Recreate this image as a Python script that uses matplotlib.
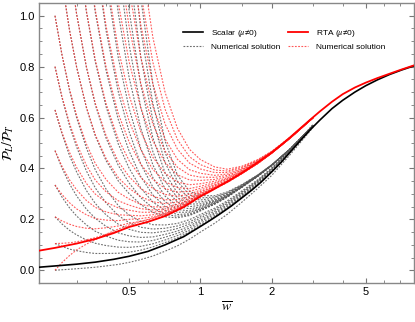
import numpy as np
import matplotlib
matplotlib.use('Agg')
import matplotlib.pyplot as plt
from matplotlib.ticker import FixedLocator, NullFormatter

plt.rcParams['font.family'] = ['Liberation Sans', 'DejaVu Sans']
plt.rcParams['mathtext.fontset'] = 'stix'

nan = np.nan

# atractores (curvas solidas)
w_atr = [0.208, 0.243, 0.3, 0.36, 0.43, 0.5, 0.6, 0.71, 0.85, 1.0, 1.1, 1.2, 1.35, 1.5, 1.65,
         1.8, 2.0, 2.2, 2.4, 2.65, 2.9, 3.2, 3.6, 4.0, 4.5, 5.0, 5.6, 6.3, 7.1, 8.0]
scalar_atr = [0.012, 0.017, 0.024, 0.032, 0.043, 0.055, 0.074, 0.10, 0.132, 0.172, 0.196, 0.219,
              0.252, 0.285, 0.315, 0.345, 0.386, 0.425, 0.465, 0.51, 0.55, 0.59, 0.635, 0.668,
              0.70, 0.725, 0.748, 0.769, 0.787, 0.803]
rta_atr = [0.077, 0.088, 0.105, 0.123, 0.146, 0.170, 0.19, 0.213, 0.248, 0.29, 0.31, 0.33,
           0.357, 0.383, 0.408, 0.432, 0.462, 0.493, 0.523, 0.558, 0.59, 0.624, 0.662, 0.692,
           0.718, 0.737, 0.755, 0.772, 0.789, 0.805]

# soluciones numericas, todas en la misma grilla de w
w_num = [0.243, 0.26, 0.28, 0.30, 0.33, 0.36, 0.40, 0.45, 0.50, 0.56, 0.63, 0.71, 0.80,
         0.90, 1.0, 1.15, 1.3, 1.5, 1.75, 2.0, 2.4, 3.0]

rta_num = [
    [0.0, 0.03, 0.058, 0.08, 0.103, 0.12, 0.142, 0.162, 0.178, 0.192, 0.205, 0.221, 0.241, 0.266, 0.293, 0.321, 0.346, 0.38, 0.42, 0.46, 0.52, 0.60],
    [0.105, 0.106, 0.108, 0.112, 0.12, 0.128, 0.141, 0.156, 0.172, 0.184, 0.197, 0.214, 0.236, 0.262, 0.29, 0.32, 0.345, 0.38, 0.42, 0.46, 0.52, 0.60],
    [0.21, 0.194, 0.181, 0.172, 0.165, 0.163, 0.167, 0.174, 0.185, 0.192, 0.203, 0.218, 0.238, 0.264, 0.291, 0.32, 0.345, 0.38, 0.42, 0.46, 0.52, 0.60],
    [0.335, 0.298, 0.265, 0.241, 0.218, 0.203, 0.197, 0.195, 0.200, 0.203, 0.210, 0.223, 0.241, 0.266, 0.293, 0.322, 0.346, 0.38, 0.42, 0.46, 0.52, 0.60],
    [0.47, 0.409, 0.355, 0.316, 0.274, 0.247, 0.229, 0.218, 0.216, 0.214, 0.218, 0.228, 0.245, 0.269, 0.294, 0.323, 0.347, 0.381, 0.42, 0.46, 0.52, 0.60],
    [0.63, 0.542, 0.463, 0.404, 0.341, 0.299, 0.267, 0.245, 0.236, 0.228, 0.228, 0.234, 0.249, 0.271, 0.296, 0.324, 0.347, 0.381, 0.42, 0.46, 0.52, 0.60],
    [0.80, 0.683, 0.577, 0.497, 0.412, 0.354, 0.308, 0.273, 0.256, 0.242, 0.237, 0.241, 0.254, 0.274, 0.298, 0.325, 0.348, 0.382, 0.421, 0.46, 0.52, 0.60],
    [1.0, 0.848, 0.711, 0.608, 0.496, 0.419, 0.356, 0.306, 0.280, 0.259, 0.249, 0.249, 0.259, 0.278, 0.301, 0.326, 0.349, 0.382, 0.421, 0.46, 0.52, 0.60],
    [nan, 1.135, 0.943, 0.798, 0.641, 0.532, 0.438, 0.364, 0.322, 0.289, 0.269, 0.262, 0.268, 0.284, 0.305, 0.329, 0.350, 0.383, 0.421, 0.46, 0.52, 0.60],
    [nan, nan, 1.197, 1.006, 0.80, 0.655, 0.528, 0.427, 0.368, 0.321, 0.291, 0.277, 0.278, 0.290, 0.309, 0.331, 0.352, 0.384, 0.422, 0.46, 0.52, 0.60],
    [nan, nan, nan, 1.295, 1.019, 0.825, 0.653, 0.515, 0.431, 0.365, 0.321, 0.298, 0.291, 0.299, 0.315, 0.335, 0.354, 0.385, 0.423, 0.46, 0.52, 0.60],
    [nan, nan, nan, nan, 1.271, 1.021, 0.797, 0.615, 0.504, 0.417, 0.357, 0.321, 0.307, 0.310, 0.322, 0.339, 0.357, 0.386, 0.423, 0.461, 0.52, 0.60],
    [nan, nan, nan, nan, nan, 1.239, 0.957, 0.728, 0.586, 0.474, 0.396, 0.348, 0.325, 0.321, 0.330, 0.344, 0.360, 0.388, 0.424, 0.461, 0.52, 0.60],
    [nan, nan, nan, nan, nan, nan, 1.158, 0.868, 0.687, 0.545, 0.444, 0.381, 0.347, 0.336, 0.340, 0.350, 0.363, 0.390, 0.425, 0.462, 0.52, 0.60],
    [nan, nan, nan, nan, nan, nan, 1.418, 1.05, 0.819, 0.638, 0.508, 0.423, 0.375, 0.355, 0.353, 0.357, 0.368, 0.393, 0.426, 0.462, 0.52, 0.60],
    [nan, nan, nan, nan, nan, nan, nan, 1.24, 0.957, 0.734, 0.574, 0.468, 0.405, 0.374, 0.366, 0.365, 0.373, 0.395, 0.428, 0.463, 0.521, 0.60],
    [nan, nan, nan, nan, nan, nan, nan, nan, 1.104, 0.837, 0.644, 0.515, 0.436, 0.395, 0.381, 0.373, 0.378, 0.398, 0.429, 0.464, 0.521, 0.60],
    [nan, nan, nan, nan, nan, nan, nan, nan, 1.285, 0.965, 0.732, 0.574, 0.476, 0.421, 0.398, 0.384, 0.384, 0.402, 0.431, 0.465, 0.522, 0.60],
    [nan, nan, nan, nan, nan, nan, nan, nan, nan, 1.089, 0.817, 0.632, 0.514, 0.446, 0.415, 0.394, 0.390, 0.405, 0.433, 0.466, 0.523, 0.60],
    [nan, nan, nan, nan, nan, nan, nan, nan, nan, 1.232, 0.915, 0.698, 0.558, 0.475, 0.435, 0.406, 0.397, 0.409, 0.435, 0.467, 0.523, 0.60],
]

scalar_num = [
    [0.0, 0.002, 0.004, 0.006, 0.009, 0.012, 0.017, 0.023, 0.031, 0.042, 0.056, 0.075, 0.096, 0.122, 0.15, 0.185, 0.22, 0.268, 0.322, 0.372, 0.455, 0.562],
    [0.105, 0.094, 0.083, 0.077, 0.070, 0.066, 0.066, 0.067, 0.071, 0.079, 0.092, 0.109, 0.127, 0.151, 0.177, 0.210, 0.244, 0.288, 0.337, 0.386, 0.463, 0.567],
    [0.21, 0.182, 0.157, 0.139, 0.119, 0.106, 0.097, 0.091, 0.090, 0.094, 0.104, 0.119, 0.136, 0.158, 0.184, 0.215, 0.248, 0.292, 0.340, 0.389, 0.465, 0.568],
    [0.335, 0.288, 0.245, 0.213, 0.178, 0.153, 0.134, 0.118, 0.112, 0.111, 0.117, 0.130, 0.145, 0.166, 0.191, 0.221, 0.253, 0.296, 0.344, 0.392, 0.467, 0.569],
    [0.47, 0.402, 0.339, 0.292, 0.240, 0.204, 0.172, 0.147, 0.135, 0.129, 0.131, 0.141, 0.154, 0.174, 0.197, 0.226, 0.258, 0.300, 0.347, 0.394, 0.469, 0.570],
    [0.63, 0.537, 0.450, 0.386, 0.313, 0.262, 0.217, 0.181, 0.161, 0.149, 0.147, 0.153, 0.164, 0.182, 0.205, 0.232, 0.263, 0.304, 0.350, 0.397, 0.471, 0.571],
    [0.80, 0.679, 0.568, 0.484, 0.390, 0.323, 0.264, 0.215, 0.187, 0.169, 0.162, 0.165, 0.174, 0.190, 0.212, 0.238, 0.268, 0.308, 0.353, 0.399, 0.472, 0.572],
    [1.0, 0.847, 0.706, 0.599, 0.480, 0.394, 0.318, 0.254, 0.217, 0.192, 0.179, 0.178, 0.184, 0.199, 0.219, 0.244, 0.273, 0.312, 0.356, 0.402, 0.473, 0.573],
    [nan, 1.135, 0.943, 0.798, 0.638, 0.527, 0.430, 0.351, 0.301, 0.258, 0.228, 0.210, 0.206, 0.215, 0.233, 0.260, 0.287, 0.326, 0.369, 0.411, 0.477, 0.569],
    [nan, nan, 1.197, 1.006, 0.796, 0.649, 0.518, 0.412, 0.343, 0.285, 0.245, 0.220, 0.212, 0.218, 0.235, 0.260, 0.288, 0.327, 0.370, 0.411, 0.477, 0.569],
    [nan, nan, nan, 1.295, 1.014, 0.817, 0.641, 0.496, 0.401, 0.323, 0.268, 0.235, 0.219, 0.222, 0.238, 0.262, 0.289, 0.327, 0.370, 0.411, 0.477, 0.569],
    [nan, nan, nan, nan, 1.265, 1.011, 0.782, 0.592, 0.468, 0.368, 0.296, 0.250, 0.228, 0.228, 0.241, 0.264, 0.290, 0.327, 0.370, 0.412, 0.477, 0.569],
    [nan, nan, nan, nan, nan, 1.227, 0.939, 0.701, 0.544, 0.417, 0.327, 0.269, 0.239, 0.233, 0.245, 0.266, 0.292, 0.328, 0.371, 0.412, 0.477, 0.569],
    [nan, nan, nan, nan, nan, nan, 1.136, 0.835, 0.636, 0.478, 0.364, 0.291, 0.252, 0.241, 0.249, 0.269, 0.293, 0.329, 0.371, 0.412, 0.477, 0.569],
    [nan, nan, nan, nan, nan, nan, 1.390, 1.010, 0.758, 0.558, 0.414, 0.320, 0.268, 0.250, 0.255, 0.272, 0.295, 0.330, 0.371, 0.412, 0.477, 0.569],
    [nan, nan, nan, nan, nan, nan, nan, 1.192, 0.885, 0.640, 0.466, 0.350, 0.285, 0.260, 0.261, 0.275, 0.297, 0.331, 0.372, 0.412, 0.477, 0.569],
    [nan, nan, nan, nan, nan, nan, nan, 1.386, 1.020, 0.729, 0.520, 0.382, 0.303, 0.270, 0.268, 0.279, 0.299, 0.332, 0.373, 0.413, 0.477, 0.569],
    [nan, nan, nan, nan, nan, nan, nan, nan, 1.187, 0.839, 0.589, 0.422, 0.326, 0.283, 0.276, 0.284, 0.302, 0.334, 0.373, 0.413, 0.477, 0.569],
    [nan, nan, nan, nan, nan, nan, nan, nan, 1.349, 0.946, 0.655, 0.462, 0.349, 0.296, 0.284, 0.288, 0.305, 0.335, 0.374, 0.414, 0.477, 0.569],
    [nan, nan, nan, nan, nan, nan, nan, nan, nan, 1.069, 0.732, 0.507, 0.374, 0.310, 0.293, 0.293, 0.308, 0.337, 0.375, 0.414, 0.477, 0.569],
]

x_major = [0.5, 1, 2, 5]
x_major_labels = ['0.5', '1', '2', '5']
x_minor = [0.3, 0.4, 0.6, 0.7, 0.8, 0.9, 1.5, 3, 4, 6, 7, 8]

fig = plt.figure(figsize=(4.15, 3.22), dpi=100)
ax = fig.add_axes([39/415, 39/322, 375/415, 280/322])

punteado = (0, (1.6, 1.3))
for i, y in enumerate(scalar_num):
    ax.plot(w_num, y, color='#555555', alpha=0.85, lw=0.8, ls=punteado, zorder=1,
            label='Numerical solution' if i == 0 else None)
for i, y in enumerate(rta_num):
    ax.plot(w_num, y, color='#ff3030', alpha=0.8, lw=0.8, ls=punteado, zorder=2,
            label='Numerical solution' if i == 0 else None)
ax.plot(w_atr, scalar_atr, color='k', lw=1.2, zorder=3, label='Scalar ($\\mu$≠0)')
ax.plot(w_atr, rta_atr, color='red', lw=1.3, zorder=4, label='RTA ($\\mu$≠0)')

ax.set_xscale('log')
ax.set_xlim(0.208, 8.0)
ax.set_ylim(-0.05, 1.05)
ax.xaxis.set_major_locator(FixedLocator(x_major))
ax.set_xticklabels(x_major_labels)
ax.xaxis.set_minor_locator(FixedLocator(x_minor))
ax.xaxis.set_minor_formatter(NullFormatter())
ax.set_yticks([0.0, 0.2, 0.4, 0.6, 0.8, 1.0])
ax.set_yticklabels(['0.0', '0.2', '0.4', '0.6', '0.8', '1.0'])
ax.yaxis.set_minor_locator(FixedLocator(np.arange(-0.05, 1.06, 0.05)))

ax.tick_params(which='both', direction='in', top=True, right=True, color='#777777',
               labelsize=8, pad=3)
ax.tick_params(which='major', length=3.5, width=0.8)
ax.tick_params(which='minor', length=2, width=0.6)
for s in ax.spines.values():
    s.set_color('#888888')
    s.set_linewidth(1.0)

ax.set_xlabel('$\\overline{w}$', fontsize=10, labelpad=2)
ax.set_ylabel('$\\mathcal{P}_L/\\mathcal{P}_T$', fontsize=10)
ax.yaxis.label.set_va('center')
ax.yaxis.set_label_coords(-0.083, 0.5)

h, l = ax.get_legend_handles_labels()
orden = [2, 0, 3, 1]
ax.legend([h[k] for k in orden], [l[k] for k in orden], ncol=2, frameon=False,
          fontsize=6, loc='upper left', bbox_to_anchor=(0.384, 0.915),
          borderpad=0, borderaxespad=0, handlelength=2.4, handletextpad=0.9,
          columnspacing=1.0, labelspacing=0.55)

fig.savefig('out.png', dpi=100)
